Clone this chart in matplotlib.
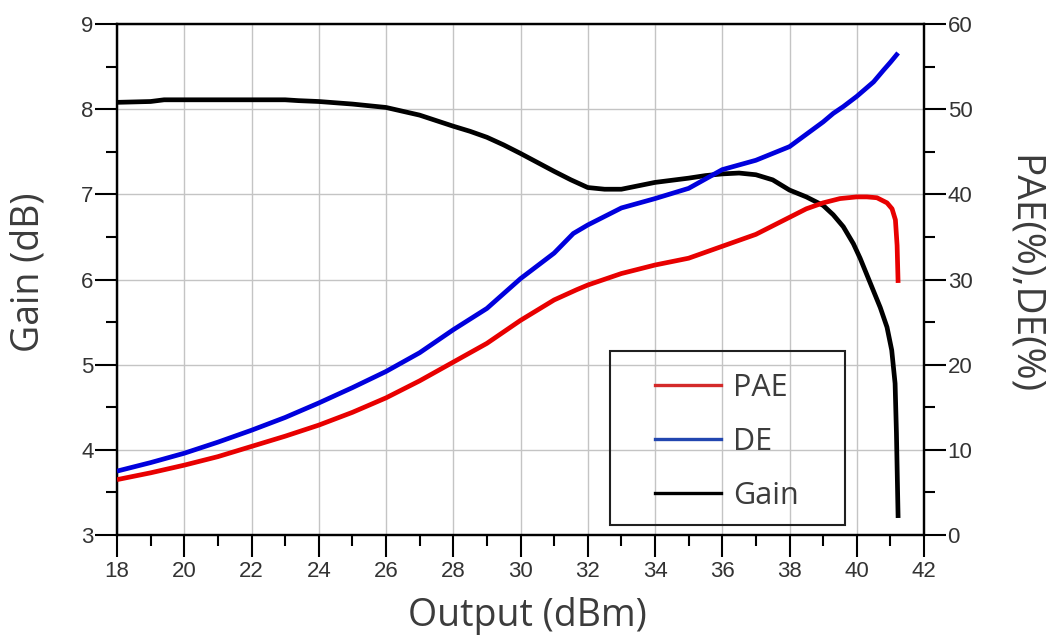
import matplotlib
matplotlib.use("Agg")
import matplotlib.pyplot as plt
from matplotlib.ticker import MultipleLocator
from matplotlib.lines import Line2D
from matplotlib.patches import Rectangle

# ---- data ----
gain_x = [18, 19, 19.4, 20, 21, 22, 23, 23.4, 24, 25, 26, 27, 28, 28.5, 29, 29.5, 30, 31,
          31.5, 32, 32.5, 33, 34, 35, 35.5, 36, 36.5, 37, 37.5, 38, 38.5, 39, 39.3, 39.6,
          39.9, 40.1, 40.4, 40.7, 40.9, 41.04, 41.14, 41.18, 41.21, 41.23]
gain = [8.08, 8.09, 8.11, 8.11, 8.11, 8.11, 8.11, 8.10, 8.09, 8.06, 8.02, 7.93, 7.80,
        7.74, 7.67, 7.58, 7.48, 7.27, 7.17, 7.08, 7.06, 7.06, 7.14, 7.19, 7.22, 7.24,
        7.25, 7.23, 7.17, 7.05, 6.97, 6.87, 6.76, 6.62, 6.42, 6.25, 5.96, 5.67, 5.44,
        5.17, 4.78, 4.20, 3.60, 3.20]

pae_x = [18, 19, 20, 21, 22, 23, 24, 25, 26, 27, 28, 29, 30, 31, 31.67, 32, 33, 34,
         35, 36, 37, 38, 38.5, 39, 39.5, 40, 40.3, 40.6, 40.9, 41.05, 41.15, 41.2, 41.23]
pae = [6.5, 7.3, 8.2, 9.2, 10.4, 11.6, 12.9, 14.4, 16.1, 18.1, 20.3, 22.5, 25.2, 27.6,
       28.8, 29.35, 30.7, 31.7, 32.5, 33.9, 35.3, 37.3, 38.3, 39.0, 39.5, 39.7, 39.7,
       39.6, 39.0, 38.3, 37.0, 34.0, 29.6]

de_x = [18, 19, 20, 21, 22, 23, 24, 25, 26, 27, 28, 29, 30, 31, 31.57, 32, 33, 34, 35,
        36, 37, 38, 39, 39.3, 39.6, 40, 40.5, 40.8, 41.0, 41.23]
de = [7.5, 8.5, 9.6, 10.9, 12.3, 13.8, 15.5, 17.3, 19.2, 21.4, 24.1, 26.6, 30.1, 33.1,
      35.4, 36.4, 38.4, 39.5, 40.7, 42.9, 44.0, 45.6, 48.5, 49.5, 50.3, 51.5, 53.2,
      54.6, 55.5, 56.6]

x_ticks = [18, 20, 22, 24, 26, 28, 30, 32, 34, 36, 38, 40, 42]
gain_ticks = [3, 4, 5, 6, 7, 8, 9]
eff_ticks = [0, 10, 20, 30, 40, 50, 60]

series_labels = ["PAE", "DE", "Gain"]

# ---- style ----
W, H = 1046, 636
fig = plt.figure(figsize=(W / 100, H / 100), dpi=100)
ax = fig.add_axes([117 / W, 1 - 535 / H, (924 - 117) / W, (535 - 24) / H])
ax2 = ax.twinx()

tick_font = "Liberation Sans"
label_font = "Open Sans"
tick_color = "#333333"
label_color = "#3c3c3c"

ax.set_xlim(18, 42)
ax.set_ylim(3, 9)
ax2.set_ylim(0, 60)

ax.set_xticks(x_ticks)
ax.set_yticks(gain_ticks)
ax2.set_yticks(eff_ticks)
ax.xaxis.set_minor_locator(MultipleLocator(1))
ax.yaxis.set_minor_locator(MultipleLocator(0.5))
ax2.yaxis.set_minor_locator(MultipleLocator(5))

ax.grid(True, which="major", color="#c4c4c4", lw=1.0)
ax.set_axisbelow(True)

for a in (ax, ax2):
    for s in a.spines.values():
        s.set_linewidth(1.6)
        s.set_color("black")
    a.tick_params(which="major", length=15.5, width=1.5, direction="out",
                  labelsize=16, labelcolor=tick_color, pad=1.5)
    a.tick_params(which="minor", length=8, width=1.5, direction="out")
    for lab in a.get_xticklabels() + a.get_yticklabels():
        lab.set_fontfamily(tick_font)

ax.tick_params(axis="x", pad=3)

red = "#e80000"
blue = "#0000dd"
lw = 3.4
ax.plot(gain_x, gain, color="black", lw=lw, solid_capstyle="butt", zorder=3)
ax2.plot(de_x, de, color=blue, lw=lw, solid_capstyle="butt", zorder=3)
ax2.plot(pae_x, pae, color=red, lw=lw, solid_capstyle="butt", zorder=3)

# axis labels
fig.text(29 / W, 1 - 272 / H, "Gain (dB)", rotation=90, ha="center", va="center",
         fontsize=27, family=label_font, color=label_color)
fig.text(527 / W, 1 - 626 / H, "Output (dBm)", ha="center", va="baseline",
         fontsize=27, family=label_font, color=label_color)
fig.text(1024 / W, 1 - 275 / H, "PAE(%),DE(%)", rotation=-90, ha="center", va="center",
         fontsize=28, family=label_font, color=label_color)

# legend
fig.patches.append(Rectangle((610 / W, 1 - 525 / H), (845 - 610) / W, (525 - 351) / H,
                             transform=fig.transFigure, fill=False, ec="#202020",
                             lw=1.5, zorder=10))
handles = [Line2D([], [], color="#d42a2a", lw=2.4),
           Line2D([], [], color="#2246b0", lw=2.4),
           Line2D([], [], color="black", lw=2.4)]
leg = fig.legend(handles, series_labels, loc="center",
                 bbox_to_anchor=(727 / W, 1 - 442 / H), frameon=False,
                 prop={"family": label_font, "size": 22}, labelcolor=label_color,
                 handlelength=2.15, handletextpad=0.4, labelspacing=0.78)

fig.savefig("out.png", dpi=100)
